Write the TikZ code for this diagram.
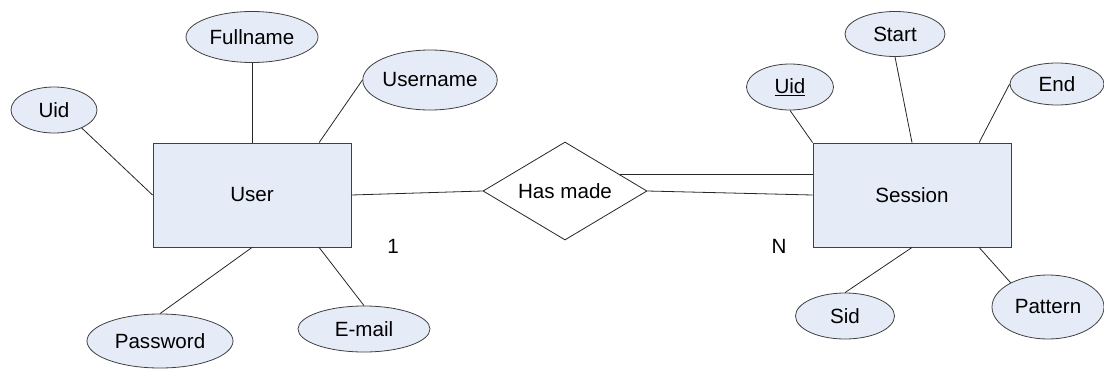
\documentclass[tikz,border=0pt]{standalone}
\usepackage{fontspec}
\setmainfont{Liberation Sans}
\usetikzlibrary{shapes.geometric,calc}

\definecolor{attrfill}{RGB}{230,236,247}
\definecolor{edgegray}{RGB}{64,64,64}

\tikzset{
  erfont/.style={font=\fontsize{20.6}{24}\selectfont, text=black},
  entity/.style={erfont, rectangle, draw=edgegray, fill=attrfill, line width=0.9pt,
                 minimum width=198pt, minimum height=104pt, inner sep=0pt},
  attr/.style={erfont, ellipse, draw=edgegray, fill=attrfill, line width=0.8pt, inner sep=0pt},
  relation/.style={erfont, diamond, aspect=1.67, draw=black!85, fill=white, line width=0.8pt,
                   minimum width=164pt, minimum height=98pt, inner sep=0pt},
  link/.style={draw=black!85, line width=0.8pt},
  card/.style={erfont, inner sep=0pt}
}

\begin{document}
\begin{tikzpicture}[x=1pt, y=-1pt]
  \useasboundingbox (0,0) rectangle (1104,370);

  % entities
  \node[entity] (user) at (252,195) {User};
  \node[entity] (session) at (912,195) {Session};

  % relationship
  \node[relation] (made) at (565,191) {Has made};

  % attributes of User
  \node[attr, minimum width=86pt,  minimum height=46pt] (uid)      at (54,110)  {Uid};
  \node[attr, minimum width=132pt, minimum height=51pt] (fullname) at (252,37)  {Fullname};
  \node[attr, minimum width=134pt, minimum height=60pt] (username) at (430,80)  {Username};
  \node[attr, minimum width=146pt, minimum height=54pt] (password) at (160,341) {Password};
  \node[attr, minimum width=132pt, minimum height=46pt] (email)    at (364,329) {E-mail};

  % attributes of Session
  \node[attr, minimum width=87pt,  minimum height=46pt] (suid)    at (790,87)   {\underline{Uid}};
  \node[attr, minimum width=100pt, minimum height=45pt] (start)   at (895,34)   {Start};
  \node[attr, minimum width=94pt,  minimum height=42pt] (end)     at (1057,84)  {End};
  \node[attr, minimum width=99pt,  minimum height=46pt] (sid)     at (845,316)  {Sid};
  \node[attr, minimum width=112pt, minimum height=64pt] (pattern) at (1048,307) {Pattern};

  % cardinalities
  \node[card] (one) at (393,246) {1};
  \node[card] (many) at (779,246) {N};

  % attribute links
  \draw[link] (uid.-33) -- (user.west);
  \draw[link] (fullname.south) -- (user.north);
  \draw[link] (username.west) -- (user.38);
  \draw[link] (user.south) -- (password.north);
  \draw[link] (user.-38) -- (email.north);

  \draw[link] (suid.south) -- (session.north west);
  \draw[link] (start.south) -- (session.north);
  \draw[link] (end.west) -- (session.38);
  \draw[link] (session.south) -- (sid.north);
  \draw[link] (session.-38) -- (pattern.147);

  % relationship links (total participation drawn as a double line)
  \draw[link] (user.east) -- (made.west);
  \coordinate (upper) at ($(made.north)!0.667!(made.east)$);
  \draw[link] (upper) -- (upper -| session.west);
  \draw[link] (made.east) -- (session.west);
\end{tikzpicture}
\end{document}
